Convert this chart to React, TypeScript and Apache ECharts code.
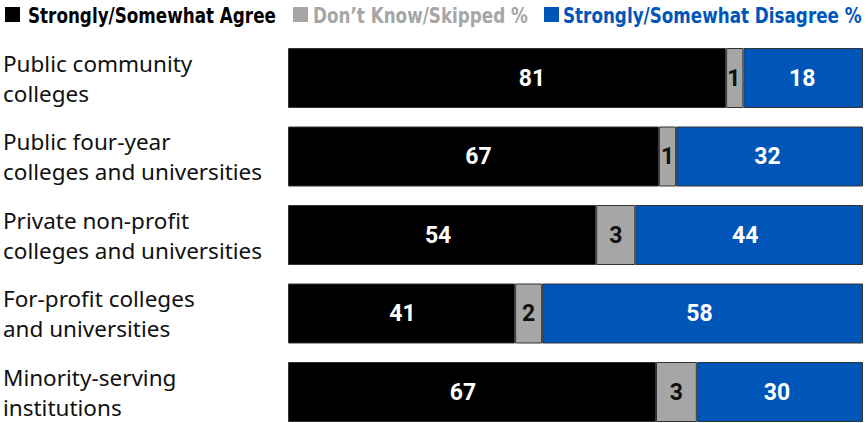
import React, { useEffect, useRef } from "react";
import * as echarts from "echarts";

const categories = [
  "Public community\ncolleges",
  "Public four-year\ncolleges and universities",
  "Private non-profit\ncolleges and universities",
  "For-profit colleges\nand universities",
  "Minority-serving\ninstitutions",
];
const agreeValues = [76.2, 64.5, 53.6, 39.5, 64.0];
const dontKnowValues = [3.0, 3.0, 6.8, 4.7, 7.1];
const disagreeValues = [20.8, 32.5, 39.6, 55.8, 28.9];
const agreeLabels = ["81", "67", "54", "41", "67"];
const dontKnowLabels = ["1", "1", "3", "2", "3"];
const disagreeLabels = ["18", "32", "44", "58", "30"];
const seriesNames = [
  "Strongly/Somewhat Agree",
  "Don’t Know/Skipped %",
  "Strongly/Somewhat Disagree %",
];

// label nudges (px), styling only
const agreeLabelShift = [25, 5, -4, 1, -9];
const dontKnowLabelShift = [-1, 0, 0, 0, 0];
const disagreeLabelShift = [-1, -2, -4, -3, -3];

const BLACK = "#000000";
const GRAY = "#a6a6a6";
const BLUE = "#0055b8";

export default function App() {
  const ref = useRef<HTMLDivElement>(null);
  useEffect(() => {
    if (!ref.current) return;
    const chart = echarts.init(ref.current, null, { renderer: "svg" });
    const mk = (
      name: string,
      values: number[],
      labels: string[],
      shifts: number[],
      color: string,
      labelColor: string
    ) => ({
      name,
      type: "bar",
      stack: "total",
      data: values.map((v, i) => ({
        value: v,
        label: { offset: [shifts[i], 0] },
      })),
      barWidth: 60,
      itemStyle: { color, borderColor: "#333333", borderWidth: 1 },
      label: {
        show: true,
        position: "inside",
        formatter: (p: any) => labels[p.dataIndex],
        color: labelColor,
        fontFamily: "Roboto",
        fontWeight: "bold",
        fontSize: 23,
      },
    });
    const legendItems = [
      { rectX: 5, textX: 28, width: 248, color: BLACK, name: seriesNames[0] },
      { rectX: 293, textX: 313, width: 215, color: GRAY, name: seriesNames[1] },
      { rectX: 544, textX: 563, width: 299, color: BLUE, name: seriesNames[2] },
    ];
    const graphic: any[] = [];
    legendItems.forEach((it) => {
      graphic.push({
        type: "rect",
        shape: { x: it.rectX, y: 7, width: 15, height: 15 },
        style: { fill: it.color },
      });
      const font = "bold 21px 'DejaVu Sans'";
      const w = (echarts as any).format.getTextRect
        ? (echarts as any).format.getTextRect(it.name, font).width
        : it.width / 0.81;
      graphic.push({
        type: "text",
        x: it.textX,
        y: 15,
        scaleX: it.width / w,
        style: {
          text: it.name,
          fill: it.color,
          font,
          verticalAlign: "middle",
          align: "left",
        },
      });
    });
    chart.setOption({
      animation: false,
      graphic,
      grid: {
        left: 288,
        right: 5,
        top: 38.75,
        height: 392.5,
        outerBoundsMode: "none",
        containLabel: false,
      },
      xAxis: {
        type: "value",
        min: 0,
        max: 100,
        show: false,
      },
      yAxis: {
        type: "category",
        inverse: true,
        data: categories,
        axisLine: { show: false },
        axisTick: { show: false },
        axisLabel: {
          align: "left",
          margin: 285,
          color: "#111111",
          fontFamily: "Noto Sans",
          fontSize: 22.5,
          lineHeight: 30,
        },
      },
      series: [
        mk(seriesNames[0], agreeValues, agreeLabels, agreeLabelShift, BLACK, "#ffffff"),
        mk(seriesNames[1], dontKnowValues, dontKnowLabels, dontKnowLabelShift, GRAY, "#111111"),
        mk(seriesNames[2], disagreeValues, disagreeLabels, disagreeLabelShift, BLUE, "#ffffff"),
      ],
    });
    return () => chart.dispose();
  }, []);
  return (
    <div
      ref={ref}
      style={{ position: "absolute", left: 0, top: 0, width: 868, height: 423 }}
    />
  );
}
